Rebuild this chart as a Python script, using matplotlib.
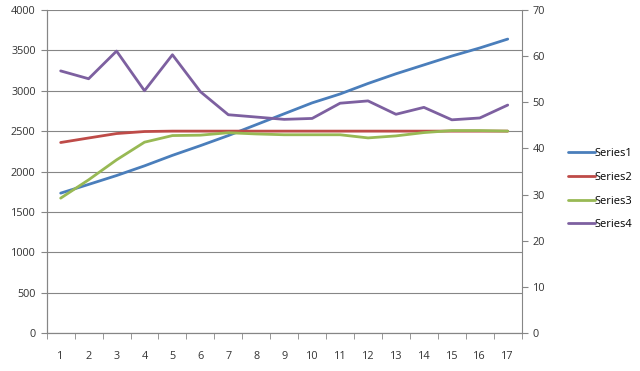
import matplotlib
matplotlib.use("Agg")
import matplotlib.pyplot as plt
from matplotlib.ticker import MultipleLocator

categories = [str(i) for i in range(1, 18)]
series1 = [1732, 1840, 1950, 2070, 2200, 2320, 2445, 2580, 2715, 2850, 2960, 3090, 3210, 3320, 3430, 3530, 3640]
series2 = [2359, 2415, 2470, 2495, 2500, 2500, 2500, 2500, 2500, 2500, 2500, 2500, 2500, 2500, 2500, 2500, 2500]
series3 = [1670, 1897, 2144, 2363, 2445, 2450, 2480, 2465, 2455, 2455, 2455, 2416, 2441, 2482, 2507, 2507, 2500]
series4 = [56.8, 55.1, 61.1, 52.5, 60.3, 52.3, 47.3, 46.8, 46.3, 46.5, 49.8, 50.3, 47.4, 48.9, 46.2, 46.6, 49.4]
names = ["Series1", "Series2", "Series3", "Series4"]
colors = ["#4A7EBB", "#BE4B48", "#98B954", "#7D60A0"]

plt.rcParams['font.family'] = ['Open Sans', 'DejaVu Sans']
plt.rcParams['font.size'] = 7.8

fig = plt.figure(figsize=(6.4, 3.71), dpi=100)
ax = fig.add_axes([46.7/640, 38/371, 475/640, 323/371])
ax2 = ax.twinx()

x = list(range(len(categories)))
lines = []
for vals, c, n in zip([series1, series2, series3], colors[:3], names[:3]):
    l, = ax.plot(x, vals, color=c, lw=2.0, label=n, solid_capstyle='round', zorder=3)
    lines.append(l)
l4, = ax2.plot(x, series4, color=colors[3], lw=2.0, label=names[3], solid_capstyle='round')
lines.append(l4)

ax.set_xlim(-0.5, len(categories) - 0.5)
ax.set_ylim(0, 4000)
ax2.set_ylim(0, 70)
ax.yaxis.set_major_locator(MultipleLocator(500))
ax2.yaxis.set_major_locator(MultipleLocator(10))
ax.set_xticks(x)
ax.set_xticklabels(categories)
ax.set_xticks([i + 0.5 for i in range(-1, len(categories))], minor=True)
ax.tick_params(axis='x', which='major', length=0, pad=13, colors='#333333')
ax.tick_params(axis='x', which='minor', length=4, color='#868686')
ax.tick_params(axis='y', length=4, color='#868686', colors='#333333', pad=4)
ax2.tick_params(axis='y', length=4, color='#868686', colors='#333333', pad=4)

ax.grid(axis='y', color='#868686', lw=0.8)
ax.set_axisbelow(True)
for a in (ax, ax2):
    a.spines['top'].set_visible(False)
    for s in ('left', 'right', 'bottom'):
        a.spines[s].set_color('#868686')
ax.spines['right'].set_visible(False)

fig.legend(lines, names, loc='upper left', bbox_to_anchor=(558/640, 1 - 138/371),
           frameon=False, handlelength=2.4, handletextpad=0.0, labelspacing=1.15,
           fontsize=8)

fig.savefig("out.png", dpi=100)
